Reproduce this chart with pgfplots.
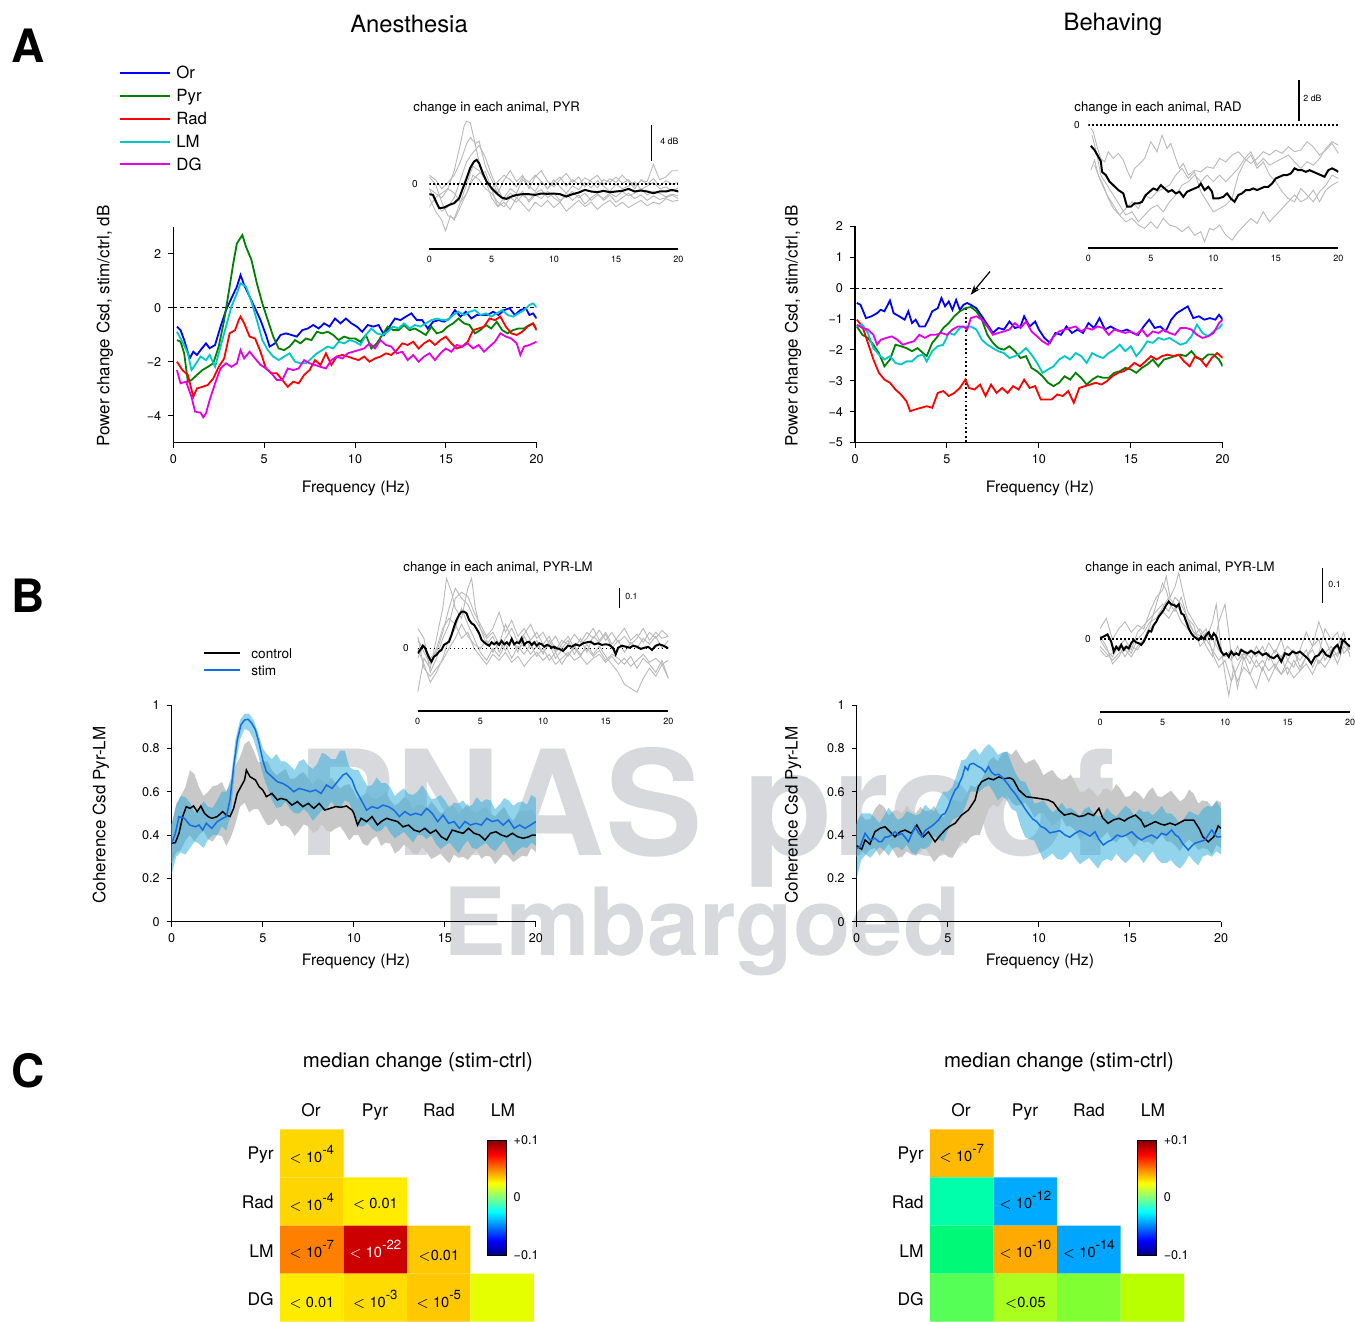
\documentclass[border=0pt]{standalone}
\usepackage{fontspec}
\setmainfont{TeX Gyre Heros}
\usepackage{pgfplots}
\pgfplotsset{compat=1.18}
\usetikzlibrary{arrows.meta}
\definecolor{cOr}{RGB}{0,0,255}
\definecolor{cPyr}{RGB}{0,128,0}
\definecolor{cRad}{RGB}{255,0,0}
\definecolor{cLM}{RGB}{0,200,200}
\definecolor{cDG}{RGB}{230,0,230}
\definecolor{stimblue}{RGB}{20,110,225}
\definecolor{bandblue}{RGB}{40,170,220}
\definecolor{bandgray}{RGB}{200,200,200}
\definecolor{wm}{RGB}{216,217,220}
\definecolor{ig}{RGB}{185,185,185}
% heatmap colours
\definecolor{La}{RGB}{255,215,0}
\definecolor{Lb}{RGB}{255,213,0}
\definecolor{Lc}{RGB}{255,236,0}
\definecolor{Ld}{RGB}{255,128,0}
\definecolor{Le}{RGB}{204,0,0}
\definecolor{Lf}{RGB}{255,200,0}
\definecolor{Lg}{RGB}{255,235,0}
\definecolor{Lh}{RGB}{255,220,0}
\definecolor{Li}{RGB}{255,200,0}
\definecolor{Lj}{RGB}{230,255,0}
\definecolor{Ra}{RGB}{255,185,0}
\definecolor{Rb}{RGB}{0,255,170}
\definecolor{Rc}{RGB}{0,170,255}
\definecolor{Rd}{RGB}{0,250,120}
\definecolor{Re}{RGB}{255,170,0}
\definecolor{Rf}{RGB}{0,165,255}
\definecolor{Rg}{RGB}{85,255,85}
\definecolor{Rh}{RGB}{170,255,30}
\definecolor{Ri}{RGB}{128,255,50}
\definecolor{Rj}{RGB}{185,255,0}
\newcommand\ex[1]{\raisebox{0.55em}{\fontsize{6.6}{7}\selectfont#1}}
\newcommand\lt{$<$}
\pgfplotsset{
  mainax/.style={scale only axis, anchor=south west, axis x line=bottom, axis y line=left,
    axis line style={-, line width=0.6pt}, tick align=outside, major tick length=2.5pt,
    tick style={line width=0.5pt, black}, xmin=0, xmax=20, xtick={0,5,10,15,20},
    xticklabels={0,5,10,15,20}, tick label style={font=\fontsize{6.3}{7}\selectfont}},
  inset/.style={scale only axis, anchor=south west, axis x line=bottom, axis y line=none,
    axis line style={-, line width=1pt}, xmin=0, xmax=20, xtick={0,5,10,15,20},
    xticklabels={0,5,10,15,20}, ytick=\empty, major tick length=0pt,
    tick label style={font=\fontsize{4.5}{5}\selectfont}},
  gl/.style={ig, line width=0.45pt},
  ml/.style={black, line width=1pt},
  zl/.style={black, line width=0.8pt, dash pattern=on 0.8pt off 1.2pt},
  heat/.style={scale only axis, anchor=south west, width=127pt, height=96.2pt, xmin=0, xmax=4,
    ymin=0, ymax=4, hide axis, colormap/jet, point meta min=-0.1, point meta max=0.1, colorbar,
    colorbar style={at={(parent axis.north west)}, anchor=north west, xshift=95.3pt, yshift=-5.35pt,
      width=9.5pt, height=57.5pt, ytick={-0.1,0,0.1}, yticklabels={−0.1,0,+0.1}, major tick length=0pt,
      tick label style={font=\fontsize{6.3}{7}\selectfont}, axis line style={line width=0.5pt}}},
  cell/.style={draw=none, fill=#1},
}
\begin{document}
\begin{tikzpicture}[x=0.5pt,y=-0.5pt]
\useasboundingbox (0,0) rectangle (1355,1322);
% watermark
\node[anchor=base, text=wm, font=\fontsize{73}{80}\selectfont\bfseries] at (707,855) {PNAS proof};
\node[anchor=base, text=wm, font=\fontsize{47}{50}\selectfont\bfseries] at (702,955) {Embargoed};

% panel letters and titles
\node[font=\fontsize{23}{24}\selectfont\bfseries] at (28,46) {A};
\node[font=\fontsize{23}{24}\selectfont\bfseries] at (28,596) {B};
\node[font=\fontsize{23}{24}\selectfont\bfseries] at (28,1071) {C};
\node[font=\fontsize{11.9}{13}\selectfont] at (409,24) {Anesthesia};
\node[font=\fontsize{11.9}{13}\selectfont] at (1113,24) {Behaving};

% axis labels
\foreach \xx/\yy in {356/488,1040/488,356/961,1040/961}
  \node[font=\fontsize{7.9}{9}\selectfont] at (\xx,\yy) {Frequency (Hz)};
\node[rotate=90, font=\fontsize{8.5}{9}\selectfont] at (105,326) {Power change Csd, stim/ctrl, dB};
\node[rotate=90, font=\fontsize{8.5}{9}\selectfont] at (793,326) {Power change Csd, stim/ctrl, dB};
\node[rotate=90, font=\fontsize{8.5}{9}\selectfont] at (101,815) {Coherence Csd Pyr-LM};
\node[rotate=90, font=\fontsize{8.5}{9}\selectfont] at (793,815) {Coherence Csd Pyr-LM};

% legend A
\foreach \c/\t/\yy in {cOr/Or/73,cPyr/Pyr/96,cRad/Rad/119,cLM/LM/142,cDG/DG/164}{
  \draw[\c, line width=0.9pt] (120,\yy) -- (170,\yy);
  \node[anchor=base west, font=\fontsize{8.4}{9}\selectfont, inner sep=0pt] at (176,\yy+6) {\t};
}
% legend B
\draw[black, line width=0.8pt] (204,653) -- (240,653);
\draw[stimblue, line width=0.8pt] (204,670) -- (240,670);
\node[anchor=base west, font=\fontsize{6.8}{8}\selectfont, inner sep=0pt] at (251,658) {control};
\node[anchor=base west, font=\fontsize{6.8}{8}\selectfont, inner sep=0pt] at (251,675) {stim};

% inset titles and zero labels
\node[anchor=west, font=\fontsize{6.6}{7}\selectfont, inner sep=0pt] at (413,108) {change in each animal, PYR};
\node[anchor=west, font=\fontsize{6.6}{7}\selectfont, inner sep=0pt] at (1074,108) {change in each animal, RAD};
\node[anchor=west, font=\fontsize{6.6}{7}\selectfont, inner sep=0pt] at (403,568) {change in each animal, PYR-LM};
\node[anchor=west, font=\fontsize{6.6}{7}\selectfont, inner sep=0pt] at (1085,568) {change in each animal, PYR-LM};
\node[font=\fontsize{5}{6}\selectfont] at (415,184) {0};
\node[font=\fontsize{5}{6}\selectfont] at (1077,125) {0};
\node[font=\fontsize{5}{6}\selectfont] at (406,648) {0};
\node[font=\fontsize{5}{6}\selectfont] at (1088,639) {0};

%================ A left main
\begin{axis}[mainax, at={(86.65pt,-221.35pt)}, width=181.7pt, height=108pt, ymin=-5, ymax=3,
  ytick={-4,-2,0,2}, yticklabels={−4,−2,0,2}]
\addplot[black, line width=0.5pt, dash pattern=on 2pt off 1.5pt] coordinates {(0,0)(20,0)};
\addplot[cOr, line width=0.9pt] coordinates {(0.2,-0.70)(0.4,-0.83)(0.6,-1.20)(0.9,-1.88)(1.1,-1.63)(1.3,-1.75)(1.5,-1.57)(1.8,-1.32)(2.0,-1.50)(2.3,-1.38)(2.6,-0.70)(2.9,-0.09)(3.2,0.35)(3.5,0.78)(3.7,1.21)(3.9,0.84)(4.2,0.41)(4.5,-0.02)(4.8,-0.46)(5.1,-1.01)(5.3,-1.44)(5.6,-1.32)(5.9,-1.01)(6.2,-0.95)(6.5,-1.01)(6.8,-1.07)(7.1,-0.83)(7.4,-0.77)(7.7,-0.64)(8.0,-0.77)(8.3,-0.58)(8.6,-0.70)(8.9,-0.40)(9.2,-0.58)(9.5,-0.40)(9.8,-0.58)(10.1,-0.70)(10.4,-0.89)(10.7,-0.64)(11.0,-0.70)(11.3,-0.64)(11.6,-1.01)(11.9,-0.70)(12.2,-0.40)(12.5,-0.46)(12.8,-0.33)(13.1,-0.21)(13.4,-0.46)(13.7,-0.46)(14.0,-0.77)(14.3,-0.52)(14.6,-0.46)(14.9,-0.52)(15.2,-0.40)(15.5,-0.09)(15.8,-0.33)(16.1,-0.15)(16.4,-0.40)(16.7,-0.27)(17.0,-0.27)(17.3,-0.27)(17.6,-0.15)(17.9,-0.27)(18.2,-0.09)(18.5,-0.02)(18.8,-0.27)(19.1,-0.09)(19.4,-0.02)(19.6,-0.27)(19.8,-0.21)(20,-0.40)};
\addplot[cPyr, line width=0.9pt] coordinates {(0.2,-1.20)(0.4,-1.26)(0.6,-1.69)(0.8,-2.74)(1.0,-2.68)(1.3,-2.49)(1.6,-2.31)(1.9,-2.19)(2.2,-2.06)(2.5,-1.44)(2.8,-0.46)(3.1,0.78)(3.3,1.64)(3.5,2.38)(3.8,2.69)(4.0,2.26)(4.3,1.77)(4.6,0.90)(4.9,0.16)(5.2,-0.46)(5.5,-1.07)(5.8,-1.51)(6.1,-1.57)(6.4,-1.44)(6.7,-1.20)(7.0,-1.32)(7.3,-1.14)(7.6,-1.20)(7.9,-0.89)(8.2,-0.95)(8.5,-0.89)(8.8,-1.01)(9.1,-1.20)(9.4,-1.07)(9.7,-1.14)(10.0,-1.14)(10.3,-1.26)(10.6,-1.01)(10.9,-1.51)(11.2,-1.32)(11.5,-1.01)(11.8,-0.70)(12.1,-0.83)(12.4,-0.83)(12.7,-0.64)(13.0,-0.83)(13.3,-0.77)(13.6,-0.89)(13.9,-1.01)(14.2,-0.70)(14.5,-0.95)(14.8,-0.89)(15.1,-0.70)(15.4,-0.58)(15.7,-0.40)(16.0,-0.58)(16.3,-0.64)(16.6,-0.95)(16.9,-0.83)(17.2,-0.64)(17.5,-0.77)(17.8,-0.52)(18.1,-0.83)(18.4,-0.95)(18.7,-0.83)(19.0,-0.77)(19.3,-0.77)(19.6,-0.64)(19.8,-0.58)(20,-0.83)};
\addplot[cRad, line width=0.9pt] coordinates {(0.2,-2.00)(0.5,-2.31)(0.8,-2.49)(1.1,-3.30)(1.3,-2.99)(1.6,-2.93)(1.9,-2.86)(2.2,-2.62)(2.5,-2.19)(2.8,-1.88)(3.1,-0.95)(3.4,-0.83)(3.6,-0.46)(3.7,-0.33)(3.9,-0.58)(4.2,-1.07)(4.5,-1.14)(4.8,-1.63)(5.1,-2.25)(5.4,-2.43)(5.7,-2.43)(6.0,-2.68)(6.3,-2.93)(6.6,-2.74)(6.9,-2.80)(7.2,-2.49)(7.5,-2.31)(7.8,-1.94)(8.1,-2.12)(8.4,-1.69)(8.7,-2.12)(9.0,-1.81)(9.3,-1.75)(9.6,-1.81)(9.9,-1.88)(10.2,-1.94)(10.5,-1.81)(10.8,-2.00)(11.1,-1.88)(11.4,-1.81)(11.7,-1.69)(12.0,-1.75)(12.3,-1.57)(12.6,-1.32)(12.9,-1.38)(13.2,-1.26)(13.5,-1.51)(13.8,-1.32)(14.1,-1.20)(14.4,-1.38)(14.7,-1.20)(15.0,-1.07)(15.3,-1.32)(15.6,-1.51)(15.9,-1.44)(16.2,-1.26)(16.5,-0.83)(16.8,-0.77)(17.1,-0.70)(17.4,-0.40)(17.7,-0.46)(18.0,-0.33)(18.3,-0.70)(18.6,-0.95)(18.9,-1.01)(19.2,-0.89)(19.5,-0.70)(19.8,-0.58)(20,-0.83)};
\addplot[cLM, line width=0.9pt] coordinates {(0.2,-0.89)(0.5,-1.26)(0.8,-1.69)(1.0,-2.31)(1.2,-2.12)(1.5,-1.81)(1.8,-1.94)(2.0,-1.75)(2.3,-2.19)(2.6,-1.44)(2.9,-0.70)(3.2,0.04)(3.5,0.53)(3.7,0.90)(4.0,0.78)(4.3,0.22)(4.6,-0.46)(4.9,-1.20)(5.2,-1.57)(5.5,-1.81)(5.8,-1.94)(6.1,-1.81)(6.4,-1.69)(6.7,-2.00)(7.0,-2.06)(7.3,-2.06)(7.6,-1.88)(7.9,-1.69)(8.2,-1.57)(8.5,-1.44)(8.8,-1.51)(9.1,-1.26)(9.4,-1.32)(9.7,-1.20)(10.0,-1.26)(10.3,-1.38)(10.6,-1.01)(10.9,-0.77)(11.2,-0.95)(11.5,-1.01)(11.8,-0.89)(12.1,-0.70)(12.4,-0.77)(12.7,-0.58)(13.0,-0.77)(13.3,-0.64)(13.6,-0.70)(13.9,-0.58)(14.2,-0.46)(14.5,-0.40)(14.8,-0.46)(15.1,-0.46)(15.4,-0.27)(15.7,-0.15)(16.0,-0.27)(16.3,-0.15)(16.6,-0.09)(16.9,-0.27)(17.2,-0.21)(17.5,-0.33)(17.8,-0.21)(18.1,-0.09)(18.4,-0.27)(18.7,-0.33)(19.0,-0.21)(19.3,-0.09)(19.6,0.10)(19.8,0.16)(20,0.01)};
\addplot[cDG, line width=0.9pt] coordinates {(0.2,-2.31)(0.4,-2.80)(0.7,-2.74)(1.0,-3.30)(1.2,-3.85)(1.5,-3.89)(1.65,-4.06)(1.8,-3.91)(2.0,-3.42)(2.3,-2.80)(2.6,-2.25)(2.9,-2.06)(3.2,-2.19)(3.5,-2.06)(3.7,-1.57)(3.9,-1.88)(4.2,-1.63)(4.5,-1.88)(4.8,-2.12)(5.1,-2.25)(5.4,-2.43)(5.7,-2.68)(6.0,-2.68)(6.3,-2.25)(6.6,-2.31)(6.9,-2.25)(7.2,-1.94)(7.5,-2.06)(7.8,-2.12)(8.1,-2.19)(8.4,-2.25)(8.7,-1.94)(9.0,-1.81)(9.3,-1.88)(9.6,-1.69)(9.9,-1.63)(10.2,-1.57)(10.5,-1.51)(10.8,-1.32)(11.1,-1.51)(11.4,-1.20)(11.7,-1.38)(12.0,-1.44)(12.3,-1.69)(12.6,-1.63)(12.9,-1.94)(13.2,-1.75)(13.5,-2.00)(13.8,-1.81)(14.1,-1.69)(14.4,-1.94)(14.7,-1.69)(15.0,-1.51)(15.3,-1.63)(15.6,-1.38)(15.9,-1.44)(16.2,-1.32)(16.5,-1.51)(16.8,-1.38)(17.1,-1.63)(17.4,-1.44)(17.7,-1.26)(18.0,-0.95)(18.3,-1.07)(18.6,-1.14)(18.9,-1.32)(19.1,-1.75)(19.3,-1.44)(19.6,-1.38)(19.8,-1.32)(20,-1.26)};
\end{axis}

%================ A right main
\begin{axis}[mainax, at={(427.5pt,-221.35pt)}, width=183.85pt, height=108.2pt, ymin=-5, ymax=2,
  ytick={-5,-4,-3,-2,-1,0,1,2}, yticklabels={−5,−4,−3,−2,−1,0,1,2}]
\addplot[black, line width=0.5pt, dash pattern=on 2pt off 1.5pt] coordinates {(0,0)(20,0)};
\addplot[black, line width=0.9pt, dash pattern=on 0.9pt off 1.3pt] coordinates {(6.05,-0.65)(6.05,-5)};
\addplot[cOr, line width=0.9pt] coordinates {(0.1,-0.48)(0.3,-0.54)(0.6,-0.97)(0.9,-0.91)(1.2,-0.81)(1.4,-0.70)(1.6,-0.75)(1.9,-0.40)(2.1,-0.81)(2.4,-0.91)(2.7,-1.02)(2.9,-0.75)(3.1,-1.13)(3.3,-1.02)(3.5,-1.24)(3.8,-1.24)(4.0,-1.02)(4.2,-0.75)(4.5,-0.65)(4.7,-0.32)(4.9,-0.59)(5.1,-0.43)(5.3,-0.70)(5.5,-0.38)(5.7,-0.70)(5.9,-0.54)(6.1,-0.48)(6.3,-0.54)(6.6,-0.65)(6.9,-0.91)(7.2,-1.18)(7.5,-1.45)(7.8,-1.29)(8.1,-1.34)(8.4,-1.08)(8.7,-1.29)(9.0,-1.24)(9.2,-0.91)(9.5,-1.24)(9.8,-1.08)(10.0,-1.34)(10.3,-1.61)(10.6,-1.77)(10.9,-1.45)(11.2,-1.51)(11.5,-1.24)(11.8,-1.45)(12.1,-1.34)(12.4,-1.45)(12.7,-1.13)(13.0,-1.29)(13.3,-0.97)(13.6,-1.34)(13.9,-1.24)(14.2,-1.34)(14.5,-1.40)(14.8,-1.34)(15.1,-1.45)(15.4,-1.51)(15.7,-1.24)(16.0,-1.02)(16.3,-1.29)(16.6,-1.24)(16.9,-1.40)(17.2,-1.02)(17.5,-0.81)(17.8,-0.70)(18.1,-0.59)(18.4,-0.97)(18.7,-0.91)(19.0,-1.02)(19.3,-0.97)(19.6,-1.02)(19.8,-0.86)(20,-1.02)};
\addplot[cPyr, line width=0.9pt] coordinates {(0.1,-1.24)(0.4,-1.51)(0.7,-1.61)(1.0,-1.83)(1.3,-2.10)(1.6,-2.53)(1.9,-2.31)(2.2,-1.83)(2.5,-1.88)(2.8,-1.94)(3.1,-2.04)(3.4,-1.94)(3.7,-2.10)(3.9,-2.20)(4.2,-1.77)(4.5,-1.56)(4.8,-1.29)(5.1,-1.13)(5.4,-0.91)(5.7,-0.75)(6.0,-0.65)(6.3,-0.61)(6.6,-0.75)(6.9,-1.02)(7.2,-1.51)(7.5,-1.77)(7.8,-1.94)(8.1,-1.99)(8.4,-1.88)(8.7,-2.04)(9.0,-2.26)(9.3,-2.20)(9.6,-2.58)(9.9,-2.69)(10.2,-2.85)(10.5,-3.06)(10.8,-3.17)(11.1,-3.06)(11.4,-2.85)(11.7,-2.96)(12.0,-2.74)(12.3,-2.90)(12.6,-3.12)(12.9,-2.96)(13.2,-2.85)(13.5,-2.90)(13.8,-2.90)(14.1,-2.74)(14.4,-2.69)(14.7,-2.58)(15.0,-2.63)(15.3,-2.74)(15.6,-2.58)(15.9,-2.47)(16.2,-2.31)(16.5,-2.53)(16.8,-2.31)(17.1,-2.26)(17.4,-2.20)(17.7,-2.15)(18.0,-2.20)(18.3,-2.04)(18.6,-2.26)(18.9,-2.31)(19.2,-2.15)(19.5,-2.15)(19.8,-2.31)(20,-2.53)};
\addplot[cRad, line width=0.9pt] coordinates {(0.1,-1.02)(0.4,-1.24)(0.7,-1.77)(1.0,-2.31)(1.3,-2.74)(1.6,-2.96)(1.9,-3.06)(2.2,-3.28)(2.5,-3.44)(2.8,-3.66)(3.0,-3.98)(3.3,-3.92)(3.6,-3.87)(3.9,-3.82)(4.2,-3.87)(4.5,-3.39)(4.8,-3.33)(5.1,-3.49)(5.4,-3.39)(5.7,-3.23)(6.0,-2.96)(6.2,-3.23)(6.5,-3.28)(6.8,-3.12)(7.1,-3.49)(7.4,-3.12)(7.7,-3.39)(8.0,-3.23)(8.3,-3.39)(8.6,-3.17)(8.9,-3.28)(9.2,-2.96)(9.5,-3.23)(9.8,-3.17)(10.1,-3.60)(10.4,-3.60)(10.7,-3.60)(11.0,-3.44)(11.3,-3.49)(11.6,-3.33)(11.9,-3.71)(12.2,-3.23)(12.5,-3.17)(12.8,-3.12)(13.1,-3.06)(13.4,-3.12)(13.7,-3.01)(14.0,-2.85)(14.3,-2.74)(14.6,-2.69)(14.9,-2.58)(15.2,-2.42)(15.5,-2.53)(15.8,-2.37)(16.1,-2.20)(16.4,-2.31)(16.7,-2.20)(17.0,-2.15)(17.3,-2.20)(17.6,-2.15)(17.9,-2.37)(18.2,-2.53)(18.5,-2.20)(18.8,-2.31)(19.1,-2.53)(19.4,-2.26)(19.7,-2.10)(20,-2.26)};
\addplot[cLM, line width=0.9pt] coordinates {(0.1,-1.24)(0.4,-1.18)(0.7,-1.45)(1.0,-1.94)(1.3,-2.15)(1.6,-2.31)(1.9,-2.20)(2.2,-2.42)(2.5,-2.47)(2.8,-2.37)(3.1,-2.37)(3.4,-2.20)(3.7,-2.15)(3.9,-2.37)(4.2,-2.04)(4.5,-1.88)(4.8,-1.83)(5.1,-1.45)(5.4,-1.51)(5.7,-1.29)(6.0,-1.24)(6.3,-1.24)(6.6,-1.34)(6.9,-1.67)(7.2,-1.83)(7.5,-1.94)(7.8,-2.04)(8.1,-2.10)(8.4,-2.26)(8.7,-2.20)(9.0,-2.10)(9.3,-1.94)(9.6,-2.15)(9.9,-2.42)(10.2,-2.74)(10.5,-2.63)(10.8,-2.53)(11.1,-2.31)(11.4,-2.20)(11.7,-2.31)(12.0,-2.10)(12.3,-2.20)(12.6,-2.42)(12.9,-2.10)(13.2,-2.20)(13.5,-2.26)(13.8,-2.10)(14.1,-1.99)(14.4,-1.83)(14.7,-2.04)(15.0,-1.88)(15.3,-2.20)(15.6,-1.99)(15.9,-1.72)(16.2,-1.77)(16.5,-1.61)(16.8,-1.67)(17.1,-1.61)(17.4,-1.72)(17.7,-1.83)(18.0,-1.77)(18.3,-1.56)(18.6,-1.18)(18.9,-1.45)(19.2,-1.56)(19.5,-1.40)(19.8,-1.29)(20,-1.15)};
\addplot[cDG, line width=0.9pt] coordinates {(0.1,-1.18)(0.4,-1.29)(0.7,-1.34)(1.0,-1.51)(1.2,-1.83)(1.4,-1.67)(1.7,-1.61)(2.0,-1.56)(2.3,-1.67)(2.6,-1.83)(2.9,-1.77)(3.2,-1.72)(3.5,-1.51)(3.8,-1.61)(4.1,-1.51)(4.4,-1.51)(4.7,-1.45)(5.0,-1.51)(5.3,-1.34)(5.6,-1.24)(5.9,-1.24)(6.1,-1.34)(6.3,-0.97)(6.6,-0.91)(6.9,-1.02)(7.2,-1.24)(7.5,-1.51)(7.8,-1.45)(8.1,-1.40)(8.4,-1.34)(8.7,-1.13)(9.0,-1.29)(9.3,-1.08)(9.6,-1.40)(9.9,-1.56)(10.2,-1.72)(10.5,-1.83)(10.8,-1.56)(11.1,-1.40)(11.4,-1.34)(11.7,-1.29)(12.0,-1.24)(12.3,-1.40)(12.6,-1.29)(12.9,-1.34)(13.2,-1.24)(13.5,-1.29)(13.8,-1.51)(14.1,-1.34)(14.4,-1.40)(14.7,-1.45)(15.0,-1.40)(15.3,-1.51)(15.6,-1.34)(15.9,-1.56)(16.2,-1.40)(16.5,-1.45)(16.8,-1.34)(17.1,-1.45)(17.4,-1.51)(17.7,-1.29)(18.0,-1.29)(18.3,-1.34)(18.6,-1.51)(18.9,-1.61)(19.2,-1.56)(19.5,-1.45)(19.8,-1.13)(20,-1.02)};
\draw[-{Stealth[length=5pt,width=3.5pt]}, line width=0.6pt] (axis cs:7.34,0.535) -- (axis cs:6.29,-0.216);
\end{axis}

%================ A left inset
\begin{axis}[inset, at={(214.65pt,-124.5pt)}, width=124.5pt, height=65.7pt, ymin=-7.2, ymax=7.4]
\addplot[gl] coordinates {(0,-0.5)(0.5,-1)(1,-1.5)(1.5,-0.5)(2,1.5)(2.5,4.5)(2.8,6.5)(3.0,7.0)(3.3,6.8)(3.6,5.0)(4,2.5)(4.5,0.5)(5,-0.5)(5.5,0.3)(6,1.0)(6.5,0.5)(7,-0.3)(7.5,0.8)(8,0.2)(8.5,1.0)(9,0.3)(9.5,-0.5)(10,0.2)(10.5,0.8)(11,-0.2)(11.5,0.5)(12,0.0)(12.5,0.7)(13,0.3)(13.5,-0.4)(14,0.5)(14.5,0.2)(15,0.8)(15.5,0.1)(16,0.5)(16.5,-0.2)(17,0.4)(17.5,0.3)(18,2.2)(18.5,0.5)(19,0.8)(19.5,1.5)(20,1.5)};
\addplot[gl] coordinates {(0,1.0)(0.5,0.5)(1,-0.5)(1.5,0.2)(2,1.0)(2.5,2.5)(3.0,4.5)(3.3,5.2)(3.7,4.5)(4.0,4.8)(4.5,2.0)(5,0.5)(5.5,-1.0)(6,0.5)(6.5,1.5)(7,0.3)(7.5,1.0)(8,-0.5)(8.5,0.8)(9,1.5)(9.5,0.3)(10,-0.3)(10.5,0.5)(11,1.2)(11.5,0.2)(12,0.8)(12.5,-0.3)(13,0.5)(13.5,1.0)(14,0.0)(14.5,0.6)(15,0.2)(15.5,1.0)(16,0.3)(16.5,-0.5)(17,0.5)(17.5,0.0)(18,0.6)(18.5,-0.2)(19,0.4)(19.5,0.0)(20,0.2)};
\addplot[gl] coordinates {(0,-0.5)(0.5,-2.0)(1,-3.0)(1.5,-2.5)(2,-1.5)(2.5,0.5)(3,2.5)(3.5,3.5)(4,4.3)(4.5,3.0)(5,1.0)(5.5,-0.5)(6,-1.8)(6.5,-1.0)(7,-1.5)(7.5,-0.8)(8,-2.0)(8.5,-1.2)(9,-1.6)(9.5,-0.8)(10,-1.5)(10.5,-2.0)(11,-1.0)(11.5,-1.8)(12,-1.2)(12.5,-2.2)(13,-1.5)(13.5,-1.0)(14,-1.8)(14.5,-1.2)(15,-2.0)(15.5,-1.5)(16,-1.0)(16.5,-1.6)(17,-1.2)(17.5,-1.8)(18,-1.3)(18.5,-1.7)(19,-1.5)(19.5,-1.2)(20,-1.6)};
\addplot[gl] coordinates {(0,-1.5)(0.5,-3.0)(1,-4.0)(1.3,-5.2)(1.7,-3.5)(2,-4.0)(2.5,-2.5)(3,-1.0)(3.5,0.5)(4,1.2)(4.5,1.4)(5,-0.5)(5.5,-2.5)(6,-2.0)(6.5,-2.8)(7,-1.5)(7.5,-2.2)(8,-3.0)(8.5,-2.0)(9,-2.5)(9.5,-1.8)(10,-2.6)(10.5,-2.0)(11,-3.0)(11.5,-2.4)(12,-1.8)(12.5,-2.5)(13,-2.0)(13.5,-2.8)(14,-2.2)(14.5,-1.8)(15,-2.5)(15.5,-2.0)(16,-2.6)(16.5,-2.2)(17,-1.8)(17.5,-2.4)(18,-2.0)(18.5,-2.2)(19,-1.6)(19.5,-1.9)(20,-1.8)};
\addplot[gl] coordinates {(0,0.8)(0.5,0.0)(1,-2.0)(1.5,-3.5)(2,-3.8)(2.5,-2.0)(3,0.0)(3.5,2.0)(4,1.5)(4.5,0.5)(5,-1.5)(5.5,-2.5)(6,-1.5)(6.5,-0.5)(7,-1.0)(7.5,0.5)(8,-0.2)(8.5,-0.8)(9,0.3)(9.5,-0.5)(10,0.5)(10.5,-0.3)(11,-1.0)(11.5,-0.2)(12,-0.6)(12.5,0.2)(13,-0.4)(13.5,0.4)(14,-0.2)(14.5,-0.8)(15,0.0)(15.5,-0.5)(16,-0.2)(16.5,0.3)(17,-0.6)(17.5,-0.2)(18,0.2)(18.5,-0.5)(19,-0.3)(19.5,-0.8)(20,-0.4)};
\addplot[gl] coordinates {(0,-2.5)(0.5,-1.5)(1,-1.0)(1.5,-0.5)(2,-1.0)(2.5,-2.0)(3,-1.0)(3.5,1.0)(4,0.5)(4.5,-0.5)(5,-1.0)(5.5,-2.0)(6,-2.5)(6.5,-1.5)(7,-2.0)(7.5,-1.2)(8,-1.8)(8.5,-1.0)(9,-0.6)(9.5,-1.5)(10,-1.0)(10.5,-1.8)(11,-1.3)(11.5,-0.8)(12,-1.5)(12.5,-1.0)(13,-1.8)(13.5,-1.2)(14,-1.6)(14.5,-1.0)(15,-1.4)(15.5,-0.8)(16,-1.3)(16.5,-1.0)(17,-0.5)(17.5,-1.2)(18,-0.8)(18.5,-1.0)(19,-1.4)(19.5,-1.1)(20,-1.3)};
\addplot[zl] coordinates {(0,0)(20,0)};
\addplot[ml] coordinates {(0,-1.11)(0.3,-1.19)(0.6,-2.11)(0.8,-2.67)(1.2,-2.59)(1.6,-2.30)(2.0,-2.11)(2.4,-1.56)(2.7,-0.44)(3.0,0.67)(3.3,1.85)(3.6,2.52)(3.8,2.70)(4.0,2.33)(4.3,1.22)(4.6,0.30)(5.0,-0.44)(5.4,-1.00)(5.8,-1.48)(6.2,-1.63)(6.6,-1.37)(7.0,-1.19)(7.5,-1.11)(8.0,-1.11)(8.5,-1.19)(9.0,-1.04)(9.5,-1.07)(10.0,-1.04)(10.5,-1.11)(11.0,-1.37)(11.5,-1.11)(12.0,-0.93)(12.5,-0.63)(13.0,-0.81)(13.5,-0.89)(14.0,-0.74)(14.5,-0.89)(15.0,-0.81)(15.5,-0.74)(16.0,-0.52)(16.5,-0.81)(17.0,-0.70)(17.5,-0.81)(18.0,-1.00)(18.5,-0.81)(19.0,-0.81)(19.5,-0.63)(20,-0.81)};
\addplot[black, line width=0.6pt] coordinates {(17.86,2.56)(17.86,6.56)};
\node[anchor=west, font=\fontsize{4.4}{5}\selectfont, inner sep=0pt] at (axis cs:18.53,4.73) {4 dB};
\end{axis}

%================ A right inset
\begin{axis}[inset, at={(544.15pt,-124.15pt)}, width=125pt, height=86.2pt, ymin=-6.01, ymax=2.4]
\addplot[gl] coordinates {(0.2,-0.16)(0.4,-0.33)(0.7,-1.06)(1.0,-1.63)(1.3,-1.79)(1.6,-1.30)(2.0,-1.63)(2.4,-1.38)(2.8,-1.71)(3.1,-2.20)(3.4,-2.60)(3.7,-2.11)(4.0,-1.95)(4.5,-1.63)(5.0,-0.81)(5.5,-1.30)(5.9,-0.49)(6.3,-1.14)(6.6,-0.89)(7.0,-1.63)(7.3,-2.11)(7.6,-1.87)(8.0,-2.44)(8.5,-2.20)(9.0,-2.28)(9.5,-2.03)(10,-2.11)(10.5,-1.63)(11,-1.79)(11.5,-1.46)(12,-1.30)(12.5,-1.63)(13,-1.87)(13.5,-1.63)(14,-1.30)(14.5,-1.46)(15,-1.22)(15.5,-1.38)(16,-1.06)(16.5,-1.30)(17,-1.22)(17.5,-0.81)(18,-1.06)(18.5,-1.46)(19,-1.22)(19.5,-0.89)(20,-1.38)};
\addplot[gl] coordinates {(0.2,-2.20)(0.5,-1.71)(0.8,-2.44)(1.2,-2.93)(1.6,-3.58)(2,-4.07)(2.5,-4.39)(3,-4.72)(3.5,-4.55)(4,-4.88)(4.5,-5.04)(5,-4.72)(5.5,-5.04)(6,-4.55)(6.5,-4.88)(7,-4.96)(7.5,-5.20)(8,-4.96)(8.5,-5.37)(9,-5.20)(9.3,-5.69)(9.7,-5.04)(10,-5.12)(10.5,-4.88)(11,-5.37)(11.5,-5.61)(12,-5.20)(12.5,-4.88)(13,-4.55)(13.5,-4.80)(14,-4.23)(14.5,-4.72)(15,-4.39)(15.5,-4.07)(16,-3.74)(16.5,-3.41)(17,-3.74)(17.5,-3.58)(18,-3.17)(18.5,-3.74)(19,-3.17)(19.5,-2.93)(20,-2.76)};
\addplot[gl] coordinates {(0.5,-1.95)(1,-2.76)(1.5,-3.41)(2,-3.90)(2.5,-4.39)(3,-4.07)(3.5,-3.74)(4,-4.07)(4.5,-3.41)(5,-3.58)(5.5,-3.25)(6,-3.09)(6.5,-2.93)(7,-2.44)(7.5,-2.11)(8,-2.60)(8.5,-2.28)(9,-3.25)(9.5,-3.74)(10,-4.23)(10.5,-4.07)(11,-3.90)(11.5,-3.58)(12,-2.44)(12.5,-1.79)(13,-1.46)(13.5,-2.11)(14,-1.79)(14.5,-2.44)(15,-2.76)(15.5,-3.25)(16,-3.58)(16.5,-3.74)(17,-3.09)(17.5,-3.41)(18,-3.74)(18.5,-3.25)(19,-2.93)(19.5,-2.44)(20,-2.60)};
\addplot[gl] coordinates {(0.3,-0.49)(0.7,-1.46)(1,-2.44)(1.5,-2.93)(2,-3.41)(2.5,-3.90)(3,-4.39)(3.5,-4.23)(4,-4.72)(4.5,-4.39)(5,-4.07)(5.5,-3.90)(6,-4.23)(6.5,-3.74)(7,-3.41)(7.5,-2.93)(8,-2.76)(8.5,-2.44)(9,-2.76)(9.5,-2.44)(10,-2.76)(10.5,-2.44)(11,-2.76)(11.5,-2.44)(12,-2.11)(12.5,-1.63)(13,-1.30)(13.5,-1.95)(14,-1.63)(14.5,-1.95)(15,-1.79)(15.5,-1.63)(16,-1.46)(16.5,-1.79)(17,-2.11)(17.5,-1.79)(18,-1.95)(18.5,-1.63)(19,-1.14)(19.5,-0.81)(20,-0.98)};
\addplot[zl] coordinates {(0,0)(20,0)};
\addplot[ml] coordinates {(0.2,-1.01)(0.5,-1.22)(0.8,-1.54)(1.0,-1.76)(1.1,-2.28)(1.4,-2.44)(1.7,-2.76)(2.0,-2.93)(2.4,-3.17)(2.8,-3.33)(3.1,-3.98)(3.4,-3.98)(3.7,-3.82)(4.0,-3.82)(4.3,-3.74)(4.6,-3.41)(4.9,-3.25)(5.2,-3.09)(5.5,-3.17)(5.8,-2.93)(6.1,-3.09)(6.4,-3.25)(6.7,-3.17)(7.0,-3.33)(7.3,-3.25)(7.6,-3.50)(7.9,-3.25)(8.2,-3.17)(8.5,-3.09)(8.8,-3.01)(9.0,-2.85)(9.3,-3.17)(9.6,-3.01)(9.9,-3.25)(10.0,-3.58)(10.4,-3.58)(10.8,-3.50)(11.1,-3.33)(11.4,-3.58)(11.7,-3.74)(12.0,-3.41)(12.3,-3.33)(12.6,-3.17)(12.9,-3.17)(13.2,-3.09)(13.5,-3.17)(13.8,-3.09)(14.1,-3.01)(14.4,-3.01)(14.7,-2.85)(15.0,-2.60)(15.3,-2.52)(15.6,-2.44)(15.9,-2.44)(16.2,-2.36)(16.5,-2.11)(16.8,-2.20)(17.1,-2.20)(17.4,-2.28)(17.7,-2.20)(18.0,-2.28)(18.3,-2.36)(18.6,-2.44)(18.9,-2.52)(19.2,-2.20)(19.5,-2.11)(19.8,-2.20)(20,-2.28)};
\addplot[black, line width=0.6pt] coordinates {(16.85,0.2)(16.85,2.2)};
\node[anchor=west, font=\fontsize{4.4}{5}\selectfont, inner sep=0pt] at (axis cs:17.18,1.32) {2 dB};
\end{axis}

%================ B left main
\begin{axis}[mainax, at={(85.85pt,-460.85pt)}, width=182.15pt, height=108.35pt, ymin=0, ymax=1,
  ytick={0,0.2,0.4,0.6,0.8,1}, yticklabels={0,0.2,0.4,0.6,0.8,1}]
\addplot[fill=bandgray, draw=none] coordinates {(0,.45)(0.25,.545)(0.5,.58)(0.75,.62)(1,.70)(1.25,.68)(1.5,.62)(1.75,.58)(2,.60)(2.25,.625)(2.5,.63)(2.75,.645)(3,.60)(3.25,.64)(3.5,.72)(3.75,.76)(4,.82)(4.25,.835)(4.5,.79)(4.75,.735)(5,.74)(5.25,.74)(5.5,.70)(5.75,.675)(6,.69)(6.25,.705)(6.5,.66)(6.75,.66)(7,.68)(7.25,.69)(7.5,.66)(7.75,.63)(8,.66)(8.25,.655)(8.5,.63)(8.75,.665)(9,.64)(9.25,.615)(9.5,.63)(9.75,.635)(10,.60)(10.25,.56)(10.5,.58)(10.75,.595)(11,.57)(11.25,.565)(11.5,.58)(11.75,.60)(12,.56)(12.25,.535)(12.5,.55)(12.75,.575)(13,.56)(13.25,.52)(13.5,.54)(13.75,.54)(14,.52)(14.25,.555)(14.5,.53)(14.75,.50)(15,.51)(15.25,.54)(15.5,.53)(15.75,.495)(16,.52)(16.25,.545)(16.5,.51)(16.75,.505)(17,.52)(17.25,.53)(17.5,.50)(17.75,.485)(18,.51)(18.25,.53)(18.5,.49)(18.75,.465)(19,.50)(19.25,.515)(19.5,.51)(19.75,.52)(20,.49)
 (20,.32)(19.75,.34)(19.5,.30)(19.25,.305)(19,.29)(18.75,.275)(18.5,.30)(18.25,.315)(18,.29)(17.75,.265)(17.5,.30)(17.25,.305)(17,.29)(16.75,.33)(16.5,.31)(16.25,.285)(16,.30)(15.75,.295)(15.5,.31)(15.25,.27)(15,.29)(14.75,.315)(14.5,.30)(14.25,.29)(14,.32)(13.75,.345)(13.5,.31)(13.25,.315)(13,.34)(12.75,.355)(12.5,.33)(12.25,.315)(12,.36)(11.75,.365)(11.5,.35)(11.25,.395)(11,.38)(10.75,.35)(10.5,.36)(10.25,.40)(10,.40)(9.75,.375)(9.5,.41)(9.25,.44)(9,.43)(8.75,.415)(8.5,.42)(8.25,.45)(8,.42)(7.75,.41)(7.5,.44)(7.25,.45)(7,.42)(6.75,.395)(6.5,.43)(6.25,.445)(6,.44)(5.75,.475)(5.5,.45)(5.25,.445)(5,.48)(4.75,.52)(4.5,.52)(4.25,.505)(4,.55)(3.75,.53)(3.5,.45)(3.25,.39)(3,.35)(2.75,.395)(2.5,.40)(2.25,.37)(2,.38)(1.75,.42)(1.5,.40)(1.25,.37)(1,.40)(0.75,.375)(0.5,.33)(0.25,.32)(0,.27)(0,.45)};
\addplot[fill=bandblue, fill opacity=0.5, draw=none] coordinates {(0,.45)(0.25,.535)(0.5,.58)(0.75,.575)(1,.55)(1.25,.505)(1.5,.52)(1.75,.555)(2,.53)(2.25,.525)(2.5,.56)(2.75,.60)(3,.60)(3.25,.66)(3.5,.84)(3.75,.93)(4,.96)(4.25,.96)(4.5,.93)(4.75,.87)(5,.80)(5.25,.77)(5.5,.75)(5.75,.775)(6,.74)(6.25,.74)(6.5,.72)(6.75,.70)(7,.74)(7.25,.75)(7.5,.72)(7.75,.705)(8,.73)(8.25,.78)(8.5,.77)(8.75,.75)(9,.75)(9.25,.79)(9.5,.79)(9.75,.715)(10,.70)(10.25,.70)(10.5,.66)(10.75,.625)(11,.63)(11.25,.665)(11.5,.64)(11.75,.64)(12,.62)(12.25,.58)(12.5,.60)(12.75,.615)(13,.59)(13.25,.585)(13.5,.60)(13.75,.63)(14,.60)(14.25,.565)(14.5,.57)(14.75,.585)(15,.56)(15.25,.525)(15.5,.55)(15.75,.545)(16,.56)(16.25,.53)(16.5,.54)(16.75,.575)(17,.55)(17.25,.565)(17.5,.56)(17.75,.52)(18,.54)(18.25,.57)(18.5,.56)(18.75,.535)(19,.55)(19.25,.555)(19.5,.54)(19.75,.585)(20,.57)
 (20,.35)(19.75,.365)(19.5,.34)(19.25,.345)(19,.33)(18.75,.305)(18.5,.34)(18.25,.375)(18,.35)(17.75,.325)(17.5,.34)(17.25,.365)(17,.35)(16.75,.335)(16.5,.34)(16.25,.375)(16,.35)(15.75,.315)(15.5,.34)(15.25,.365)(15,.35)(14.75,.335)(14.5,.36)(14.25,.40)(14,.38)(13.75,.40)(13.5,.40)(13.25,.365)(13,.39)(12.75,.415)(12.5,.40)(12.25,.385)(12,.41)(11.75,.445)(11.5,.42)(11.25,.415)(11,.43)(10.75,.455)(10.5,.44)(10.25,.44)(10,.50)(9.75,.55)(9.5,.56)(9.25,.525)(9,.53)(8.75,.555)(8.5,.52)(8.25,.515)(8,.49)(7.75,.465)(7.5,.50)(7.25,.52)(7,.50)(6.75,.50)(6.5,.52)(6.25,.555)(6,.53)(5.75,.525)(5.5,.56)(5.25,.62)(5,.68)(4.75,.77)(4.5,.84)(4.25,.88)(4,.89)(3.75,.84)(3.5,.72)(3.25,.50)(3,.42)(2.75,.44)(2.5,.40)(2.25,.40)(2,.38)(1.75,.34)(1.5,.36)(1.25,.37)(1,.34)(0.75,.31)(0.5,.32)(0.25,.30)(0,.22)(0,.45)};
\addplot[black, line width=0.75pt] coordinates {(0,0.362)(0.2,0.365)(0.4,0.408)(0.6,0.485)(0.8,0.531)(1.0,0.523)(1.2,0.534)(1.4,0.508)(1.6,0.534)(1.8,0.50)(2.0,0.485)(2.2,0.477)(2.5,0.485)(2.8,0.508)(3.0,0.492)(3.2,0.485)(3.4,0.523)(3.6,0.592)(3.8,0.623)(4.0,0.654)(4.1,0.70)(4.3,0.669)(4.6,0.654)(4.8,0.623)(5.0,0.608)(5.2,0.577)(5.5,0.592)(5.8,0.562)(6.0,0.569)(6.3,0.562)(6.6,0.538)(6.9,0.554)(7.2,0.531)(7.5,0.546)(7.8,0.523)(8.1,0.546)(8.4,0.515)(8.7,0.523)(9.0,0.531)(9.3,0.528)(9.6,0.534)(9.9,0.515)(10.0,0.50)(10.2,0.446)(10.4,0.477)(10.7,0.462)(11.0,0.485)(11.3,0.446)(11.5,0.462)(11.8,0.477)(12.1,0.469)(12.4,0.462)(12.7,0.438)(13.0,0.446)(13.3,0.423)(13.6,0.415)(13.9,0.431)(14.2,0.408)(14.5,0.423)(14.8,0.392)(15.1,0.377)(15.4,0.423)(15.7,0.415)(16.0,0.408)(16.3,0.431)(16.6,0.408)(16.9,0.40)(17.2,0.377)(17.5,0.408)(17.8,0.415)(18.1,0.40)(18.4,0.392)(18.7,0.408)(19.0,0.392)(19.3,0.385)(19.6,0.392)(19.8,0.40)(20,0.40)};
\addplot[stimblue, line width=0.75pt] coordinates {(0,0.362)(0.2,0.408)(0.4,0.485)(0.7,0.477)(1.0,0.446)(1.3,0.438)(1.5,0.446)(1.7,0.423)(1.9,0.454)(2.2,0.431)(2.5,0.462)(2.8,0.477)(3.0,0.485)(3.2,0.562)(3.4,0.715)(3.6,0.838)(3.8,0.908)(4.0,0.931)(4.2,0.934)(4.4,0.915)(4.6,0.885)(4.8,0.823)(5.0,0.746)(5.2,0.692)(5.5,0.669)(5.8,0.646)(6.1,0.638)(6.4,0.623)(6.7,0.60)(7.0,0.615)(7.3,0.608)(7.6,0.60)(7.9,0.608)(8.2,0.592)(8.5,0.631)(8.8,0.615)(9.1,0.646)(9.4,0.677)(9.6,0.685)(9.9,0.654)(10.1,0.608)(10.4,0.562)(10.7,0.515)(11.0,0.531)(11.3,0.523)(11.6,0.538)(11.9,0.531)(12.2,0.515)(12.5,0.485)(12.8,0.508)(13.1,0.492)(13.4,0.50)(13.7,0.492)(14.0,0.523)(14.3,0.50)(14.6,0.462)(14.9,0.492)(15.2,0.454)(15.5,0.462)(15.8,0.431)(16.1,0.462)(16.4,0.446)(16.7,0.454)(17.0,0.446)(17.3,0.477)(17.6,0.462)(17.9,0.469)(18.2,0.446)(18.5,0.469)(18.8,0.431)(19.1,0.446)(19.4,0.431)(19.7,0.446)(20,0.462)};
\end{axis}

%================ B right main
\begin{axis}[mainax, at={(428.35pt,-460.85pt)}, width=182.15pt, height=108.35pt, ymin=0, ymax=1,
  ytick={0,0.2,0.4,0.6,0.8,1}, yticklabels={0,0.2,0.4,0.6,0.8,1}]
\addplot[fill=bandgray, draw=none] coordinates {(0,.45)(0.25,.49)(0.5,.47)(0.75,.475)(1,.52)(1.25,.545)(1.5,.53)(1.75,.49)(2,.51)(2.25,.515)(2.5,.50)(2.75,.535)(3,.51)(3.25,.50)(3.5,.53)(3.75,.51)(4,.51)(4.25,.535)(4.5,.50)(4.75,.48)(5,.52)(5.25,.56)(5.5,.56)(5.75,.55)(6,.58)(6.25,.63)(6.5,.62)(6.75,.64)(7,.68)(7.25,.74)(7.5,.76)(7.75,.74)(8,.78)(8.25,.785)(8.5,.77)(8.75,.795)(9,.76)(9.25,.73)(9.5,.74)(9.75,.75)(10,.72)(10.25,.675)(10.5,.69)(10.75,.70)(11,.67)(11.25,.655)(11.5,.66)(11.75,.68)(12,.64)(12.25,.60)(12.5,.60)(12.75,.62)(13,.60)(13.25,.575)(13.5,.61)(13.75,.615)(14,.60)(14.25,.635)(14.5,.61)(14.75,.575)(15,.58)(15.25,.605)(15.5,.59)(15.75,.565)(16,.60)(16.25,.62)(16.5,.58)(16.75,.575)(17,.59)(17.25,.605)(17.5,.58)(17.75,.555)(18,.57)(18.25,.61)(18.5,.59)(18.75,.545)(19,.56)(19.25,.555)(19.5,.53)(19.75,.56)(20,.55)
 (20,.34)(19.75,.355)(19.5,.31)(19.25,.335)(19,.34)(18.75,.33)(18.5,.36)(18.25,.38)(18,.36)(17.75,.325)(17.5,.35)(17.25,.37)(17,.37)(16.75,.405)(16.5,.38)(16.25,.355)(16,.37)(15.75,.365)(15.5,.38)(15.25,.345)(15,.37)(14.75,.40)(14.5,.39)(14.25,.365)(14,.38)(13.75,.415)(13.5,.39)(13.25,.375)(13,.38)(12.75,.41)(12.5,.40)(12.25,.38)(12,.42)(11.75,.44)(11.5,.44)(11.25,.48)(11,.46)(10.75,.445)(10.5,.47)(10.25,.505)(10,.50)(9.75,.48)(9.5,.52)(9.25,.55)(9,.54)(8.75,.535)(8.5,.55)(8.25,.585)(8,.56)(7.75,.53)(7.5,.54)(7.25,.52)(7,.46)(6.75,.40)(6.5,.40)(6.25,.39)(6,.36)(5.75,.375)(5.5,.33)(5.25,.295)(5,.30)(4.75,.32)(4.5,.30)(4.25,.275)(4,.31)(3.75,.345)(3.5,.32)(3.25,.305)(3,.31)(2.75,.325)(2.5,.30)(2.25,.295)(2,.33)(1.75,.36)(1.5,.33)(1.25,.305)(1,.34)(0.75,.335)(0.5,.31)(0.25,.325)(0,.30)(0,.45)};
\addplot[fill=bandblue, fill opacity=0.5, draw=none] coordinates {(0,.46)(0.25,.50)(0.5,.50)(0.75,.50)(1,.48)(1.25,.455)(1.5,.49)(1.75,.525)(2,.50)(2.25,.47)(2.5,.48)(2.75,.51)(3,.50)(3.25,.49)(3.5,.50)(3.75,.54)(4,.52)(4.25,.51)(4.5,.56)(4.75,.60)(5,.60)(5.25,.62)(5.5,.68)(5.75,.745)(6,.75)(6.25,.785)(6.5,.80)(6.75,.77)(7,.80)(7.25,.82)(7.5,.80)(7.75,.77)(8,.78)(8.25,.785)(8.5,.73)(8.75,.68)(9,.65)(9.25,.645)(9.5,.60)(9.75,.545)(10,.55)(10.25,.56)(10.5,.53)(10.75,.505)(11,.52)(11.25,.55)(11.5,.52)(11.75,.525)(12,.51)(12.25,.485)(12.5,.52)(12.75,.53)(13,.50)(13.25,.485)(13.5,.49)(13.75,.525)(14,.50)(14.25,.485)(14.5,.51)(14.75,.535)(15,.52)(15.25,.49)(15.5,.52)(15.75,.505)(16,.51)(16.25,.49)(16.5,.51)(16.75,.535)(17,.50)(17.25,.50)(17.5,.48)(17.75,.45)(18,.48)(18.25,.51)(18.5,.50)(18.75,.49)(19,.52)(19.25,.535)(19.5,.53)(19.75,.555)(20,.52)
 (20,.31)(19.75,.325)(19.5,.30)(19.25,.31)(19,.30)(18.75,.26)(18.5,.28)(18.25,.305)(18,.27)(17.75,.245)(17.5,.26)(17.25,.285)(17,.27)(16.75,.27)(16.5,.29)(16.25,.325)(16,.30)(15.75,.27)(15.5,.30)(15.25,.315)(15,.29)(14.75,.27)(14.5,.29)(14.25,.315)(14,.28)(13.75,.29)(13.5,.28)(13.25,.245)(13,.27)(12.75,.295)(12.5,.28)(12.25,.265)(12,.29)(11.75,.325)(11.5,.30)(11.25,.285)(11,.29)(10.75,.315)(10.5,.30)(10.25,.285)(10,.33)(9.75,.375)(9.5,.38)(9.25,.39)(9,.44)(8.75,.51)(8.5,.52)(8.25,.56)(8,.58)(7.75,.56)(7.5,.60)(7.25,.63)(7,.62)(6.75,.60)(6.5,.60)(6.25,.60)(6,.54)(5.75,.49)(5.5,.48)(5.25,.47)(5,.42)(4.75,.37)(4.5,.38)(4.25,.395)(4,.35)(3.75,.335)(3.5,.34)(3.25,.31)(3,.32)(2.75,.355)(2.5,.33)(2.25,.345)(2,.34)(1.75,.305)(1.5,.33)(1.25,.345)(1,.32)(0.75,.295)(0.5,.31)(0.25,.285)(0,.20)(0,.46)};
\addplot[black, line width=0.75pt] coordinates {(0,0.351)(0.27,0.334)(0.46,0.377)(0.73,0.358)(1.0,0.415)(1.28,0.431)(1.56,0.438)(1.83,0.415)(2.1,0.392)(2.38,0.415)(2.65,0.423)(3.0,0.408)(3.3,0.446)(3.66,0.392)(3.93,0.415)(4.3,0.369)(4.6,0.40)(4.85,0.423)(5.1,0.44)(5.4,0.454)(5.76,0.492)(6.13,0.515)(6.5,0.562)(6.68,0.623)(6.86,0.646)(7.23,0.662)(7.5,0.655)(7.8,0.668)(8.1,0.660)(8.4,0.664)(8.6,0.655)(8.9,0.608)(9.3,0.577)(10.0,0.569)(10.5,0.562)(10.8,0.55)(11.1,0.515)(11.4,0.492)(11.8,0.50)(12.2,0.485)(12.5,0.49)(12.7,0.50)(13.0,0.49)(13.3,0.523)(13.5,0.48)(13.8,0.454)(14.1,0.47)(14.4,0.477)(14.7,0.465)(14.9,0.477)(15.3,0.492)(15.6,0.47)(15.8,0.438)(16.1,0.45)(16.4,0.462)(16.7,0.45)(16.9,0.446)(17.2,0.455)(17.5,0.446)(17.8,0.46)(18.0,0.469)(18.5,0.469)(18.8,0.43)(19.0,0.392)(19.3,0.369)(19.6,0.392)(19.85,0.442)(20,0.431)};
\addplot[stimblue, line width=0.75pt] coordinates {(0,0.338)(0.18,0.346)(0.46,0.408)(0.73,0.377)(1.01,0.385)(1.2,0.37)(1.37,0.369)(1.55,0.39)(1.74,0.392)(1.9,0.40)(2.1,0.415)(2.3,0.40)(2.47,0.408)(2.65,0.39)(2.84,0.369)(3.0,0.40)(3.2,0.438)(3.4,0.41)(3.57,0.392)(3.75,0.42)(3.93,0.431)(4.1,0.44)(4.3,0.454)(4.5,0.47)(4.67,0.492)(4.85,0.50)(5.03,0.531)(5.2,0.57)(5.4,0.608)(5.55,0.62)(5.67,0.646)(5.8,0.67)(5.95,0.715)(6.1,0.70)(6.2,0.725)(6.4,0.731)(6.6,0.72)(6.86,0.708)(7.05,0.69)(7.23,0.715)(7.4,0.69)(7.59,0.677)(7.8,0.68)(7.96,0.669)(8.15,0.65)(8.33,0.631)(8.5,0.61)(8.69,0.592)(8.9,0.565)(9.06,0.546)(9.25,0.52)(9.42,0.50)(9.65,0.475)(9.88,0.462)(10.1,0.44)(10.34,0.431)(10.6,0.41)(10.89,0.415)(11.15,0.42)(11.44,0.40)(11.7,0.39)(11.99,0.408)(12.25,0.42)(12.53,0.408)(12.8,0.395)(13.08,0.415)(13.3,0.38)(13.54,0.354)(13.8,0.37)(14.0,0.377)(14.3,0.40)(14.55,0.392)(14.8,0.40)(15.1,0.415)(15.4,0.39)(15.64,0.377)(15.9,0.39)(16.19,0.40)(16.5,0.385)(16.74,0.408)(17.0,0.40)(17.29,0.423)(17.5,0.40)(17.66,0.392)(17.9,0.36)(18.2,0.331)(18.4,0.35)(18.57,0.362)(18.85,0.37)(19.12,0.377)(19.3,0.40)(19.49,0.423)(19.76,0.392)(20,0.392)};
\end{axis}

%================ B left inset
\begin{axis}[inset, at={(208.85pt,-355.5pt)}, width=125.3pt, height=71.35pt, ymin=-0.3135, ymax=0.40]
\addplot[gl] coordinates {(0,-0.22)(0.5,-0.05)(1,-0.10)(1.5,0.05)(2,0.20)(2.3,0.35)(2.7,0.28)(3,0.2)(3.5,0.15)(4,0.30)(4.3,0.35)(4.6,0.2)(5,0.1)(5.5,0.05)(6,0.08)(6.5,0.02)(7,0.12)(7.5,0.05)(8,-0.02)(8.5,0.06)(9,0.0)(9.5,0.04)(10,-0.03)(10.5,0.04)(11,-0.02)(11.5,0.02)(12,0.06)(12.5,0.0)(13,0.05)(13.5,-0.02)(14,0.06)(14.5,0.03)(15,0.07)(15.5,0.0)(16,0.04)(16.5,-0.02)(17,0.03)(17.5,0.0)(18,0.05)(18.5,0.02)(19,0.06)(19.5,0.0)(20,0.04)};
\addplot[gl] coordinates {(0,0.10)(0.5,0.05)(1,-0.12)(1.5,-0.05)(2,0.05)(2.5,0.12)(3,0.25)(3.5,0.28)(4,0.26)(4.5,0.18)(5,0.12)(5.5,0.06)(6,0.10)(6.5,0.18)(7,0.08)(7.5,0.14)(8,0.06)(8.5,0.10)(9,0.04)(9.5,0.08)(10,0.02)(10.5,0.06)(11,-0.01)(11.5,0.04)(12,0.02)(12.5,0.07)(13,0.03)(13.5,0.08)(14,0.05)(14.5,0.09)(15,0.04)(15.5,0.08)(16,0.03)(16.5,0.06)(17,0.02)(17.5,0.05)(18,0.10)(18.5,0.04)(19,0.08)(19.5,0.05)(20,0.06)};
\addplot[gl] coordinates {(0,0.0)(0.5,-0.08)(1,-0.17)(1.5,-0.12)(2,-0.05)(2.5,0.05)(3,0.10)(3.5,0.20)(4,0.12)(4.5,0.05)(5,-0.02)(5.5,-0.06)(6,0.0)(6.5,-0.04)(7,0.02)(7.5,-0.05)(8,0.01)(8.5,-0.03)(9,0.02)(9.5,-0.04)(10,0.0)(10.5,-0.06)(11,-0.02)(11.5,-0.08)(12,-0.03)(12.5,0.0)(13,-0.04)(13.5,0.02)(14,-0.03)(14.5,0.01)(15,-0.04)(15.5,-0.08)(16,-0.12)(16.5,-0.18)(17,-0.20)(17.5,-0.22)(18,-0.15)(18.5,-0.10)(19,-0.14)(19.5,-0.08)(20,-0.15)};
\addplot[gl] coordinates {(0,-0.05)(0.5,0.02)(1,-0.05)(1.5,-0.02)(2,0.08)(2.5,0.20)(3,0.30)(3.5,0.25)(4,0.22)(4.5,0.15)(5,0.10)(5.5,0.02)(6,0.06)(6.5,-0.02)(7,0.05)(7.5,0.10)(8,0.03)(8.5,0.07)(9,0.12)(9.5,0.05)(10,0.08)(10.5,0.02)(11,0.06)(11.5,0.0)(12,0.04)(12.5,-0.03)(13,0.02)(13.5,0.05)(14,0.10)(14.5,0.04)(15,0.08)(15.5,0.02)(16,0.06)(16.5,0.10)(17,0.04)(17.5,0.07)(18,0.03)(18.5,0.08)(19,0.05)(19.5,0.09)(20,0.06)};
\addplot[gl] coordinates {(0,0.05)(0.5,-0.02)(1,-0.08)(1.5,0.0)(2,0.10)(2.5,0.15)(3,0.12)(3.5,0.05)(4,0.08)(4.5,0.0)(5,-0.04)(5.5,-0.08)(6,-0.03)(6.5,-0.06)(7,-0.02)(7.5,-0.07)(8,-0.04)(8.5,-0.09)(9,-0.05)(9.5,-0.02)(10,-0.06)(10.5,-0.03)(11,-0.08)(11.5,-0.05)(12,-0.02)(12.5,-0.06)(13,-0.04)(13.5,-0.08)(14,-0.05)(14.5,-0.03)(15,-0.07)(15.5,-0.04)(16,-0.08)(16.5,-0.05)(17,-0.09)(17.5,-0.06)(18,-0.03)(18.5,-0.07)(19,-0.05)(19.5,-0.08)(20,-0.06)};
\addplot[gl] coordinates {(0,0.06)(0.5,-0.10)(1,-0.14)(1.5,-0.10)(2,-0.06)(2.5,0.0)(3,0.05)(3.5,0.12)(4,0.06)(4.5,0.02)(5,0.0)(5.5,0.04)(6,-0.02)(6.5,0.03)(7,-0.01)(7.5,0.04)(8,0.0)(8.5,0.02)(9,-0.03)(9.5,0.01)(10,-0.02)(10.5,0.02)(11,-0.05)(11.5,-0.01)(12,-0.04)(12.5,0.01)(13,-0.03)(13.5,0.0)(14,-0.04)(14.5,-0.01)(15,-0.06)(15.5,-0.03)(16,-0.05)(16.5,-0.08)(17,-0.04)(17.5,-0.10)(18,-0.05)(18.5,-0.08)(19,-0.12)(19.5,-0.06)(20,-0.15)};
\addplot[zl] coordinates {(0,0)(20,0)};
\addplot[ml] coordinates {(0,-0.025)(0.2,-0.008)(0.4,0.013)(0.6,0)(0.8,-0.033)(1.0,-0.058)(1.1,-0.067)(1.3,-0.042)(1.5,-0.033)(1.7,-0.017)(1.9,-0.008)(2.1,0.017)(2.3,0.025)(2.5,0.033)(2.7,0.067)(2.9,0.108)(3.1,0.142)(3.3,0.167)(3.5,0.183)(3.7,0.183)(3.9,0.175)(4.1,0.142)(4.3,0.125)(4.5,0.117)(4.7,0.097)(4.9,0.075)(5.1,0.042)(5.3,0.030)(5.5,0.020)(5.7,0.013)(5.9,0.030)(6.1,0.020)(6.3,0.030)(6.5,0.017)(6.7,0.037)(6.9,0.020)(7.1,0.030)(7.3,0.017)(7.5,0.047)(7.7,0.020)(7.9,0.030)(8.1,0.025)(8.3,0.050)(8.5,0.017)(8.7,0.030)(8.9,0.033)(9.1,0.017)(9.3,0.030)(9.5,0.013)(9.7,0.025)(9.9,0.020)(10.1,0.008)(10.3,0.017)(10.5,0.013)(10.7,0.003)(10.9,0.008)(11.1,0)(11.3,-0.003)(11.6,-0.013)(11.8,0)(12.0,0.013)(12.3,0.008)(12.6,0.020)(12.9,0.013)(13.2,0.025)(13.5,0.030)(13.8,0.033)(14.1,0.020)(14.4,0.025)(14.7,0.017)(15.0,0.020)(15.3,0.017)(15.6,0)(15.8,-0.030)(16.0,0.003)(16.3,0.013)(16.6,0.008)(16.9,0.003)(17.2,0.013)(17.5,0.008)(17.8,-0.003)(18.1,0.003)(18.4,0.007)(18.7,-0.008)(19.0,0.013)(19.3,0.020)(19.6,0.013)(20,0)};
\addplot[black, line width=0.6pt] coordinates {(16.1,0.203)(16.1,0.303)};
\node[anchor=west, font=\fontsize{4.4}{5}\selectfont, inner sep=0pt] at (axis cs:16.54,0.258) {0.1};
\end{axis}

%================ B right inset
\begin{axis}[inset, at={(550pt,-355.85pt)}, width=125pt, height=78.2pt, ymin=-0.2069, ymax=0.24]
\addplot[gl] coordinates {(0,0.03)(0.5,0.06)(1,0.0)(1.5,0.03)(2,0.05)(2.5,0.02)(3,0.04)(3.5,0.03)(4,0.08)(4.5,0.12)(5,0.14)(5.3,0.18)(5.6,0.12)(6,0.15)(6.3,0.19)(6.6,0.14)(7,0.08)(7.5,0.05)(8,0.02)(8.5,-0.02)(9,-0.05)(9.5,0.05)(10,0.10)(10.3,0.02)(10.6,-0.08)(11,-0.12)(11.5,-0.08)(12,-0.10)(12.5,-0.06)(13,-0.09)(13.5,-0.04)(14,-0.08)(14.5,-0.05)(15,-0.10)(15.5,-0.06)(16,-0.09)(16.5,-0.05)(17,-0.02)(17.5,0.0)(18,-0.06)(18.5,-0.03)(19,-0.07)(19.5,-0.02)(20,-0.04)};
\addplot[gl] coordinates {(0,-0.02)(0.5,-0.04)(1,-0.06)(1.5,-0.04)(2,-0.03)(2.5,-0.05)(3,-0.02)(3.5,0.0)(4,0.04)(4.5,0.10)(5,0.16)(5.3,0.14)(5.6,0.10)(6,0.08)(6.5,0.12)(7,0.06)(7.5,0.02)(8,0.01)(8.5,0.03)(9,-0.04)(9.5,-0.08)(10,-0.06)(10.5,-0.12)(11,-0.08)(11.5,-0.04)(12,-0.07)(12.5,-0.02)(13,-0.05)(13.5,-0.01)(14,-0.04)(14.5,0.0)(15,-0.06)(15.5,-0.03)(16,-0.08)(16.5,-0.05)(17,-0.03)(17.5,-0.07)(18,-0.04)(18.5,-0.02)(19,-0.05)(19.5,0.0)(20,-0.03)};
\addplot[gl] coordinates {(0,0.01)(0.5,-0.02)(1,-0.07)(1.5,-0.05)(2,-0.02)(2.5,-0.04)(3,0.0)(3.5,0.02)(4,0.05)(4.5,0.06)(5,0.09)(5.5,0.12)(6,0.10)(6.5,0.08)(7,0.05)(7.5,0.02)(8,0.0)(8.5,0.02)(9,0.0)(9.5,-0.03)(10,-0.05)(10.5,-0.03)(11,-0.06)(11.5,-0.04)(12,-0.05)(12.5,-0.08)(13,-0.06)(13.5,-0.09)(14,-0.07)(14.5,-0.10)(15,-0.08)(15.5,-0.11)(16,-0.09)(16.5,-0.07)(17,-0.10)(17.5,-0.06)(18,-0.08)(18.5,-0.05)(19,-0.04)(19.5,-0.01)(20,-0.03)};
\addplot[gl] coordinates {(0,-0.03)(0.5,-0.05)(1,-0.04)(1.5,-0.02)(2,-0.05)(2.5,-0.02)(3,-0.03)(3.5,0.0)(4,0.03)(4.5,0.05)(5,0.08)(5.5,0.06)(6,0.09)(6.5,0.05)(7,0.03)(7.5,0.01)(8,0.03)(8.5,0.0)(9,0.05)(9.3,0.10)(9.6,0.0)(10,-0.10)(10.3,-0.16)(10.7,-0.08)(11,-0.14)(11.5,-0.05)(12,-0.10)(12.5,-0.14)(13,-0.08)(13.5,-0.12)(14,-0.08)(14.5,-0.10)(15,-0.06)(15.5,-0.08)(16,-0.03)(16.5,0.02)(17,-0.02)(17.5,0.05)(18,0.0)(18.5,-0.04)(19,-0.02)(19.5,0.02)(20,-0.05)};
\addplot[gl] coordinates {(0,0.0)(0.5,-0.03)(1,-0.05)(1.5,-0.02)(2,0.0)(2.5,-0.03)(3,0.02)(3.5,0.04)(4,0.06)(4.5,0.08)(5,0.10)(5.5,0.08)(6,0.12)(6.5,0.10)(7,0.06)(7.5,0.04)(8,-0.02)(8.5,0.0)(9,-0.03)(9.5,-0.06)(10,-0.04)(10.5,-0.06)(11,-0.02)(11.5,-0.06)(12,-0.03)(12.5,-0.05)(13,-0.02)(13.5,-0.06)(14,-0.03)(14.5,-0.05)(15,-0.02)(15.5,-0.04)(16,-0.06)(16.5,-0.03)(17,-0.08)(17.5,-0.04)(18,0.03)(18.5,0.0)(19,0.02)(19.5,-0.04)(20,-0.02)};
\addplot[zl] coordinates {(0,0)(20,0)};
\addplot[ml] coordinates {(0,0.003)(0.3,0.008)(0.6,0.014)(0.9,-0.007)(1.1,-0.035)(1.3,-0.021)(1.5,-0.030)(1.7,-0.016)(1.9,-0.030)(2.1,-0.021)(2.3,-0.026)(2.5,-0.011)(2.7,-0.002)(2.9,-0.009)(3.1,-0.011)(3.3,-0.016)(3.5,-0.007)(3.7,0.008)(3.9,0.024)(4.1,0.022)(4.3,0.041)(4.5,0.050)(4.7,0.065)(4.9,0.074)(5.1,0.084)(5.3,0.098)(5.5,0.108)(5.7,0.100)(5.9,0.098)(6.1,0.093)(6.3,0.100)(6.5,0.074)(6.7,0.070)(6.9,0.050)(7.1,0.031)(7.3,0.017)(7.5,0.008)(7.7,0.003)(7.9,-0.002)(8.1,0.008)(8.3,0.001)(8.5,0.012)(8.7,0.020)(8.9,0.003)(9.1,0.017)(9.3,0.008)(9.5,-0.016)(9.7,-0.035)(9.9,-0.045)(10.1,-0.040)(10.3,-0.050)(10.5,-0.035)(10.7,-0.045)(10.9,-0.040)(11.1,-0.045)(11.3,-0.030)(11.5,-0.035)(11.8,-0.040)(12.1,-0.033)(12.4,-0.041)(12.7,-0.035)(13.0,-0.045)(13.3,-0.040)(13.6,-0.050)(13.9,-0.054)(14.2,-0.045)(14.5,-0.064)(14.8,-0.040)(15.1,-0.045)(15.4,-0.035)(15.7,-0.040)(16.0,-0.035)(16.3,-0.045)(16.6,-0.054)(16.9,-0.069)(17.2,-0.050)(17.5,-0.045)(17.8,-0.030)(18.1,-0.045)(18.4,-0.050)(18.7,-0.026)(19.0,-0.016)(19.2,-0.035)(19.4,-0.002)(19.6,-0.007)(19.8,-0.014)(20,-0.021)};
\addplot[black, line width=0.6pt] coordinates {(17.8,0.105)(17.8,0.205)};
\node[anchor=west, font=\fontsize{4.4}{5}\selectfont, inner sep=0pt] at (axis cs:18.24,0.158) {0.1};
\end{axis}

%================ C heatmaps
\node[font=\fontsize{10.2}{11}\selectfont] at (418,1062) {median change (stim-ctrl)};
\node[font=\fontsize{10.2}{11}\selectfont] at (1059,1062) {median change (stim-ctrl)};
\foreach \ox in {0,650}{
  \foreach \t/\xx in {Or/311,Pyr/375,Rad/439,LM/503}
    \node[anchor=base, font=\fontsize{8.7}{9}\selectfont, inner sep=0pt] at (\xx+\ox,1116) {\t};
  \foreach \t/\yy in {Pyr/1159,Rad/1208,LM/1257,DG/1305}
    \node[anchor=base east, font=\fontsize{8.7}{9}\selectfont, inner sep=0pt] at (274+\ox,\yy) {\t};
}
\begin{axis}[heat, at={(140pt,-660.85pt)}]
\addplot[cell=La] coordinates {(0,3)(1,3)(1,4)(0,4)(0,3)};
\addplot[cell=Lb] coordinates {(0,2)(1,2)(1,3)(0,3)(0,2)};
\addplot[cell=Lc] coordinates {(1,2)(2,2)(2,3)(1,3)(1,2)};
\addplot[cell=Ld] coordinates {(0,1)(1,1)(1,2)(0,2)(0,1)};
\addplot[cell=Le] coordinates {(1,1)(2,1)(2,2)(1,2)(1,1)};
\addplot[cell=Lf] coordinates {(2,1)(3,1)(3,2)(2,2)(2,1)};
\addplot[cell=Lg] coordinates {(0,0)(1,0)(1,1)(0,1)(0,0)};
\addplot[cell=Lh] coordinates {(1,0)(2,0)(2,1)(1,1)(1,0)};
\addplot[cell=Li] coordinates {(2,0)(3,0)(3,1)(2,1)(2,0)};
\addplot[cell=Lj] coordinates {(3,0)(4,0)(4,1)(3,1)(3,0)};
\begin{scope}[every node/.style={anchor=base, font=\fontsize{7.3}{8}\selectfont, inner sep=0pt}]
\node at (axis cs:0.5,3.31) {\lt{} 10\ex{-4}};
\node at (axis cs:0.5,2.31) {\lt{} 10\ex{-4}};
\node at (axis cs:1.5,2.35) {\lt{} 0.01};
\node at (axis cs:0.5,1.33) {\lt{} 10\ex{-7}};
\node[text=white] at (axis cs:1.5,1.34) {\lt{} 10\ex{-22}};
\node at (axis cs:2.5,1.27) {\lt0.01};
\node at (axis cs:0.5,0.29) {\lt{} 0.01};
\node at (axis cs:1.5,0.29) {\lt{} 10\ex{-3}};
\node at (axis cs:2.5,0.29) {\lt{} 10\ex{-5}};
\end{scope}
\end{axis}
\begin{axis}[heat, at={(465pt,-660.85pt)}]
\addplot[cell=Ra] coordinates {(0,3)(1,3)(1,4)(0,4)(0,3)};
\addplot[cell=Rb] coordinates {(0,2)(1,2)(1,3)(0,3)(0,2)};
\addplot[cell=Rc] coordinates {(1,2)(2,2)(2,3)(1,3)(1,2)};
\addplot[cell=Rd] coordinates {(0,1)(1,1)(1,2)(0,2)(0,1)};
\addplot[cell=Re] coordinates {(1,1)(2,1)(2,2)(1,2)(1,1)};
\addplot[cell=Rf] coordinates {(2,1)(3,1)(3,2)(2,2)(2,1)};
\addplot[cell=Rg] coordinates {(0,0)(1,0)(1,1)(0,1)(0,0)};
\addplot[cell=Rh] coordinates {(1,0)(2,0)(2,1)(1,1)(1,0)};
\addplot[cell=Ri] coordinates {(2,0)(3,0)(3,1)(2,1)(2,0)};
\addplot[cell=Rj] coordinates {(3,0)(4,0)(4,1)(3,1)(3,0)};
\begin{scope}[every node/.style={anchor=base, font=\fontsize{7.3}{8}\selectfont, inner sep=0pt}]
\node at (axis cs:0.5,3.33) {\lt{} 10\ex{-7}};
\node at (axis cs:1.5,2.35) {\lt{} 10\ex{-12}};
\node at (axis cs:1.5,1.34) {\lt{} 10\ex{-10}};
\node at (axis cs:2.5,1.34) {\lt{} 10\ex{-14}};
\node at (axis cs:1.5,0.30) {\lt0.05};
\end{scope}
\end{axis}
\end{tikzpicture}
\end{document}
